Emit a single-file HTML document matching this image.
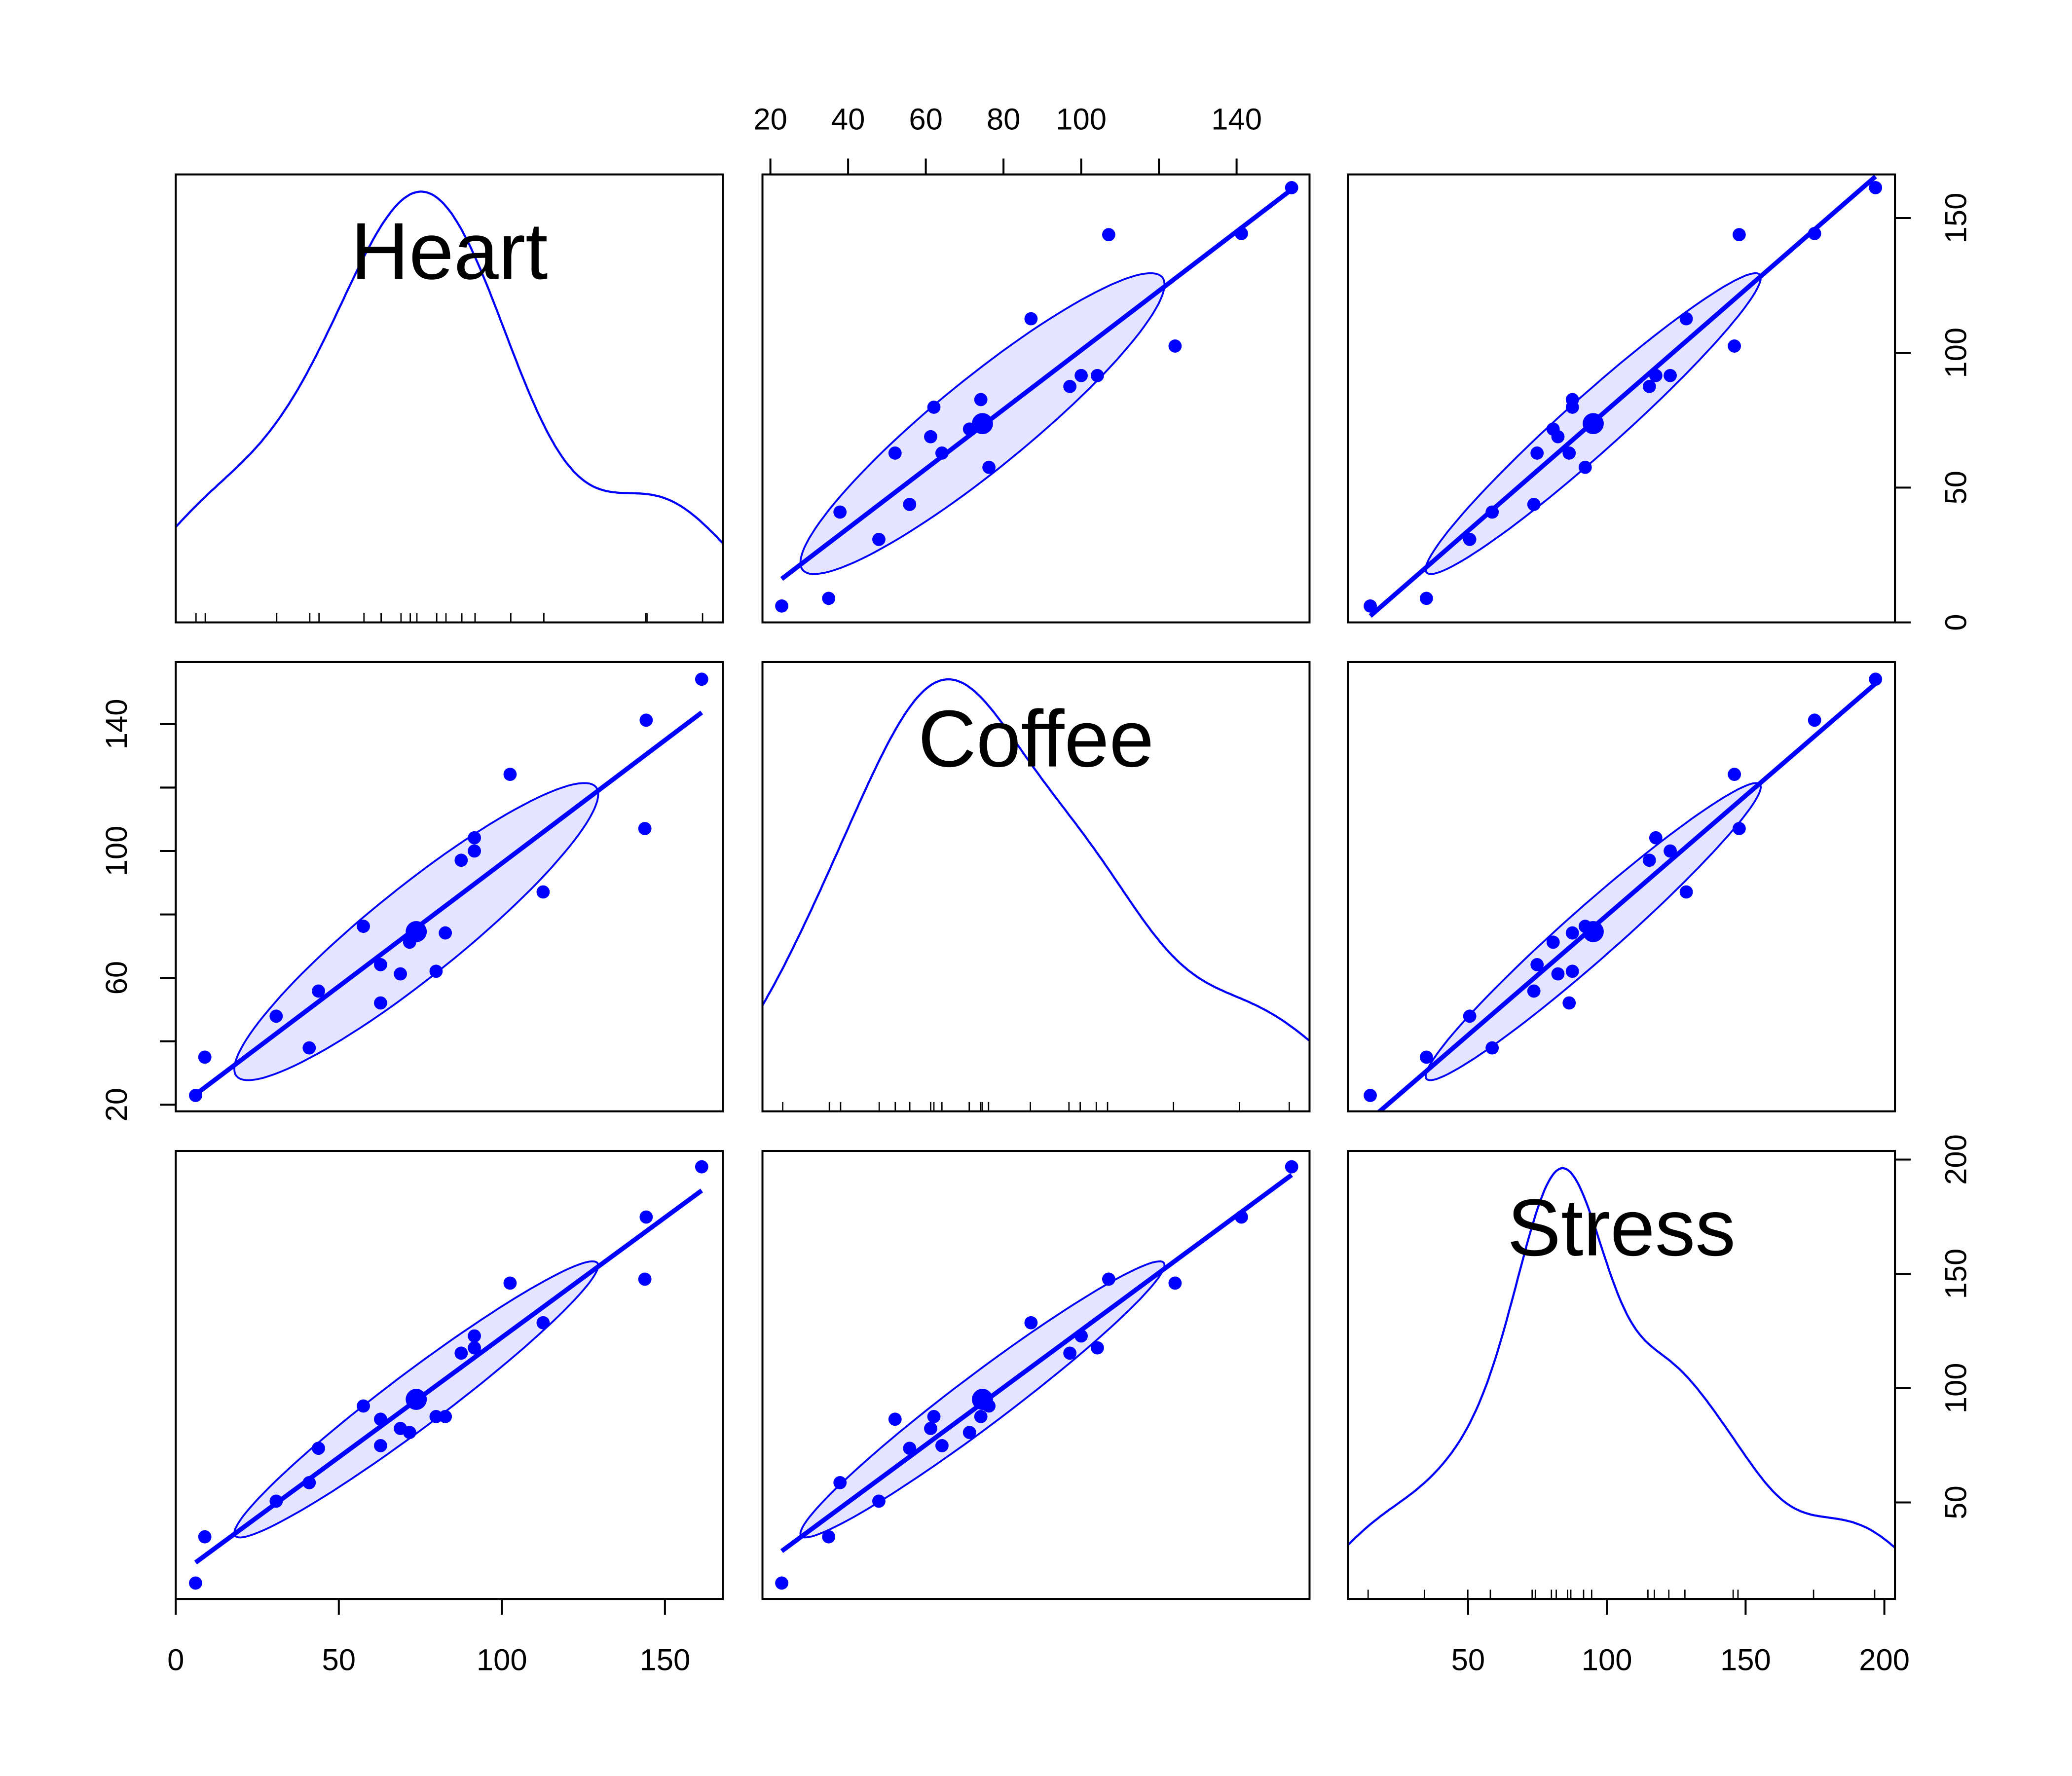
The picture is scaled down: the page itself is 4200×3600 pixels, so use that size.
<!DOCTYPE html>
<html><head><meta charset="utf-8"><style>
html,body{margin:0;padding:0;background:#fff}
svg{display:block}
text{font-family:"Liberation Sans",Arial,sans-serif}
</style></head><body>
<svg id="s" width="4200" height="3600" viewBox="0 0 1568 1344" preserveAspectRatio="none" xmlns="http://www.w3.org/2000/svg"></svg>
<script>
const S=document.getElementById('s');let out='';
const hp=[[148,829],[155,800],[209,769],[234,793],[241,750],[275,701],[288,730],[288,759],[303,737],[310,713],[315,705],[330,735],[337,706],[349,651],[359,634],[359,644],[386,586],[411,675],[488,627],[489,545],[531,514]];
const sp=[1198,1163,1136,1122,1096,1064,1094,1074,1081,1084,1059,1072,1072,1024,1020,1011,971,1001,968,921,883];
const big=10;
const H=hp.map(p=>(p[0]-133)/2.468),C=hp.map(p=>20+(836-p[1])/2.4),St=sp.map(y=>50+(1137-y)/1.73);
const V=[H,C,St];
const cols=[[133,547],[577,991],[1020,1434]],rows=[[132,471],[501,841],[871,1210]];
const xm=[v=>133+2.468*v,v=>583+2.94*(v-20),v=>1111+2.1*(v-50)];
const ym=[v=>471-2.04*v,v=>836-2.4*(v-20),v=>1137-1.73*(v-50)];
const B='#0000ff';const bwf=[1.5,1,0.85];
function mean(a){return a.reduce((s,x)=>s+x,0)/a.length}
for(let r=0;r<3;r++)for(let c=0;c<3;c++){
 const [x0,x1]=cols[c],[y0,y1]=rows[r];
 out+=`<clipPath id="c${r}${c}"><rect x="${x0}" y="${y0}" width="${x1-x0}" height="${y1-y0}"/></clipPath>`;
 if(r===c){
  const d=V[r];const n=d.length;const m=mean(d);const sd=Math.sqrt(d.reduce((s,x)=>s+(x-m)**2,0)/(n-1));
  const so=[...d].sort((a,b)=>a-b);const iqr=so[15]-so[5];
  const bw=bwf[r]*0.9*Math.min(sd,iqr/1.34)*Math.pow(n,-0.2);
  const lo=Math.min(...d),hi=Math.max(...d);const rlo=lo-(hi-lo)*0.04,rhi=hi+(hi-lo)*0.04;
  const xs=[],ys=[];
  for(let i=0;i<=300;i++){const x=rlo+(rhi-rlo)*i/300;let s=0;for(const v of d)s+=Math.exp(-0.5*((x-v)/bw)**2);xs.push(x);ys.push(s);}
  const mx=Math.max(...ys)*1.04;
  let p='';for(let i=0;i<=300;i++){const px=x0+(x1-x0)*(xs[i]-rlo)/(rhi-rlo);const py=y1-(y1-y0)*ys[i]/mx;p+=(i?'L':'M')+px.toFixed(1)+' '+py.toFixed(1);}
  out+=`<path d="${p}" fill="none" stroke="${B}" stroke-width="1.6" clip-path="url(#c${r}${c})"/>`;
  for(const v of d){const px=x0+(x1-x0)*(v-rlo)/(rhi-rlo);out+=`<line x1="${px}" x2="${px}" y1="${y1}" y2="${y1-7}" stroke="#000" stroke-width="1"/>`;}
  const nm=['Heart','Coffee','Stress'][r];
  out+=`<text x="${(x0+x1)/2}" y="${y0+79}" font-size="61" text-anchor="middle">${nm}</text>`;
 } else {
  const px=V[c].map(xm[c]),py=V[r].map(ym[r]);const n=px.length;
  const mx=mean(px),my=mean(py);let sxx=0,syy=0,sxy=0;
  for(let i=0;i<n;i++){sxx+=(px[i]-mx)**2;syy+=(py[i]-my)**2;sxy+=(px[i]-mx)*(py[i]-my);}
  sxx/=n-1;syy/=n-1;sxy/=n-1;
  const cx=px[big],cy=py[big];
  const rad=1.36;const a=Math.sqrt(sxx),b=sxy/a,cc=Math.sqrt(Math.max(syy-b*b,0));
  let e='';for(let i=0;i<=120;i++){const t=2*Math.PI*i/120;const u=Math.cos(t),v=Math.sin(t);e+=(i?'L':'M')+(cx+rad*a*u).toFixed(1)+' '+(cy+rad*(b*u+cc*v)).toFixed(1);}
  out+=`<path d="${e}Z" fill="#0000ff" fill-opacity="0.1" stroke="${B}" stroke-width="1.4"/>`;
  const sl=sxy/sxx;const lx0=Math.min(...px),lx1=Math.max(...px);
  out+=`<line x1="${lx0}" y1="${my+sl*(lx0-mx)}" x2="${lx1}" y2="${my+sl*(lx1-mx)}" stroke="${B}" stroke-width="3.5" clip-path="url(#c${r}${c})"/>`;
  for(let i=0;i<n;i++)out+=`<circle cx="${px[i]}" cy="${py[i]}" r="${i==big?8:5}" fill="${B}"/>`;
 }
 out+=`<rect x="${x0}" y="${y0}" width="${x1-x0}" height="${y1-y0}" fill="none" stroke="#000" stroke-width="1.5"/>`;
}
const fs=23;
function hAxis(vals,labs,map,yb,dir){for(const v of vals){const x=map(v);out+=`<line x1="${x}" x2="${x}" y1="${yb}" y2="${yb+dir*12}" stroke="#000" stroke-width="1.5"/>`;}
 const xs=vals.map(map);out+=`<line x1="${Math.min(...xs)}" x2="${Math.max(...xs)}" y1="${yb}" y2="${yb}" stroke="#000" stroke-width="1.5"/>`;
 for(const v of labs){out+=`<text x="${map(v)}" y="${dir>0?yb+54:yb-34}" font-size="${fs}" text-anchor="middle">${v}</text>`;}}
function vAxis(vals,labs,map,xb,dir){for(const v of vals){const y=map(v);out+=`<line y1="${y}" y2="${y}" x1="${xb}" x2="${xb+dir*12}" stroke="#000" stroke-width="1.5"/>`;}
 const ys=vals.map(map);out+=`<line y1="${Math.min(...ys)}" y2="${Math.max(...ys)}" x1="${xb}" x2="${xb}" stroke="#000" stroke-width="1.5"/>`;
 for(const v of labs){const x=dir>0?xb+54:xb-37;out+=`<text x="${x}" y="${map(v)}" font-size="${fs}" text-anchor="middle" transform="rotate(-90 ${x} ${map(v)})">${v}</text>`;}}
hAxis([20,40,60,80,100,120,140],[20,40,60,80,100,140],xm[1],132,-1);
hAxis([0,50,100,150],[0,50,100,150],xm[0],1210,1);
hAxis([50,100,150,200],[50,100,150,200],xm[2],1210,1);
vAxis([0,50,100,150],[0,50,100,150],ym[0],1434,1);
vAxis([20,40,60,80,100,120,140],[20,60,100,140],ym[1],133,-1);
vAxis([50,100,150,200],[50,100,150,200],ym[2],1434,1);
S.innerHTML=out;
</script>
</body></html>
